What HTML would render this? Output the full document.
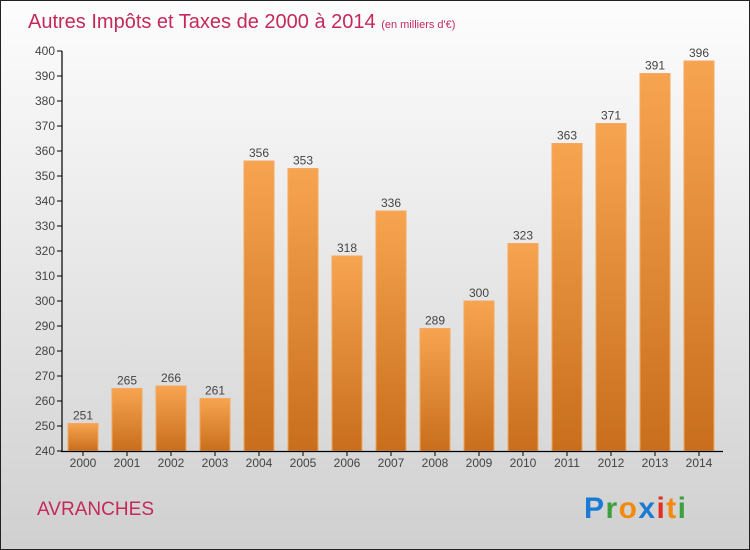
<!DOCTYPE html>
<html><head><meta charset="utf-8"><style>
body{margin:0}
#c{width:750px;height:550px;position:relative;box-sizing:border-box;border:1px solid #222;background:linear-gradient(#fdfdfd,#d0d0d0);font-family:"Liberation Sans",sans-serif;overflow:hidden}
svg text{font-family:"Liberation Sans",sans-serif}
</style></head><body>
<div id="c">
<svg id="s" width="750" height="550">
<defs><linearGradient id="g" x1="0" y1="0" x2="0" y2="1"><stop offset="0" stop-color="#f7a450"/><stop offset="1" stop-color="#c86e1c"/></linearGradient></defs>
<text x="27" y="27" font-size="20" fill="#c5295a">Autres Impôts et Taxes de 2000 à 2014 <tspan font-size="11">(en milliers d'€)</tspan></text>
<text x="36" y="514" font-size="19" fill="#c5295a" textLength="117">AVRANCHES</text>
<g font-size="30" font-weight="bold">
<text x="583" y="517" textLength="102"><tspan fill="#1a7ad4">P</tspan><tspan fill="#3aa040">r</tspan><tspan fill="#f28a10">o</tspan><tspan fill="#1a7ad4">x</tspan><tspan fill="#e03020">i</tspan><tspan fill="#f28a10">t</tspan><tspan fill="#3aa040">i</tspan></text></g>
<g id="plot"></g>
</svg>
</div>
<script>
const years=["2000","2001","2002","2003","2004","2005","2006","2007","2008","2009","2010","2011","2012","2013","2014"];
const values=[251,265,266,261,356,353,318,336,289,300,323,363,371,391,396];
const yTicks=[240,250,260,270,280,290,300,310,320,330,340,350,360,370,380,390,400];
const NS="http://www.w3.org/2000/svg";
const g=document.getElementById('plot');
const y=v=>450-(v-240)*2.5;
const x=i=>82+44*i;
function mk(t,a){const e=document.createElementNS(NS,t);for(const k in a)e.setAttribute(k,a[k]);g.appendChild(e);return e;}
yTicks.forEach(t=>{
 const l=mk('line',{x1:56,x2:61,y1:y(t),y2:y(t),stroke:'#000'});
 
 
 const tx=mk('text',{x:54,y:y(t)+4,'font-size':12,fill:'#444','text-anchor':'end'});tx.textContent=t;
 
 
});
years.forEach((yr,i)=>{
 const v=values[i];
 const r=mk('rect',{x:x(i)-15,y:y(v),width:30,height:450-y(v),fill:'url(#g)',stroke:'#f4a860','stroke-width':1});
 
 
 const vl=mk('text',{x:x(i),y:y(v)-4,'font-size':12,fill:'#444','text-anchor':'middle'});vl.textContent=v;
 
 
 const tk=mk('line',{x1:x(i),x2:x(i),y1:450,y2:455,stroke:'#000'});
 
 
 const xl=mk('text',{x:x(i),y:466,'font-size':12,fill:'#444','text-anchor':'middle'});xl.textContent=yr;
 
 
});
const ya=mk('line',{x1:61,x2:61,y1:y(400),y2:451,stroke:'#000','stroke-width':1.2});


const xa=mk('line',{x1:60,x2:722,y1:450.5,y2:450.5,stroke:'#000','stroke-width':1.2});


</script>
</body></html>
